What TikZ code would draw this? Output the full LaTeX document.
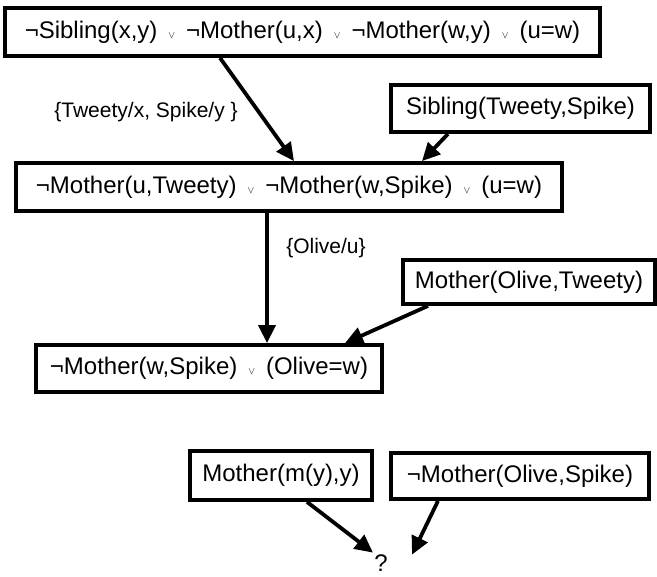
\documentclass[tikz,border=0pt]{standalone}
\usepackage{fontspec}
\setmainfont{Liberation Sans}
\usetikzlibrary{arrows.meta,calc}
\newcommand{\myor}{\hspace{11pt}{\fontsize{10}{10}\selectfont$\vee$}\hspace{11pt}}
\begin{document}
\begin{tikzpicture}[x=1pt,y=-1pt,
  clause/.style={draw, line width=3.8pt, fill=white, inner sep=0pt, font=\fontsize{24}{28}\selectfont},
  lbl/.style={inner sep=0pt, font=\fontsize{21}{24}\selectfont},
  conn/.style={line width=3.8pt, -{Triangle[length=18pt,width=17pt]}}]
\useasboundingbox (0,0) rectangle (657,577);
\node[clause, minimum width=595pt, minimum height=48pt] (b1) at (302.5,32)
  {¬Sibling(x,y)\myor¬Mother(u,x)\myor¬Mother(w,y)\myor(u=w)};
\node[clause, minimum width=259pt, minimum height=47pt] (sib) at (520.5,108.5)
  {Sibling(Tweety,Spike)};
\node[clause, minimum width=546pt, minimum height=48pt] (b2) at (289,187)
  {¬Mother(u,Tweety)\myor¬Mother(w,Spike)\myor(u=w)\hspace{10pt}};
\node[clause, minimum width=252pt, minimum height=44pt] (mot) at (529,282)
  {Mother(Olive,Tweety)};
\node[clause, minimum width=346pt, minimum height=47pt] (b3) at (209,368.5)
  {¬Mother(w,Spike)\myor(Olive=w)};
\node[clause, minimum width=182pt, minimum height=49pt] (mmy) at (281,475.5)
  {Mother(m(y),y)};
\node[clause, minimum width=258pt, minimum height=46pt] (nmos) at (520,476)
  {¬Mother(Olive,Spike)};
\node[lbl] (l1) at (146,112) {\{Tweety/x, Spike/y \}};
\node[lbl] (l2) at (326,248) {\{Olive/u\}};
\node[inner sep=0pt, anchor=base, font=\fontsize{24}{28}\selectfont] (q) at (381,572) {?};

\draw[conn] ($(b1.south)+(-82.5,0)$) -- ($(b2.north)+(5,0)$);
\draw[conn] ($(sib.south)+(-72.5,0)$) -- ($(b2.north)+(133,0)$);
\draw[conn] ($(b2.south)+(-22,0)$) -- ($(b3.north)+(58,0)$);
\draw[conn] ($(mot.south)+(-101,0)$) -- ($(b3.north)+(136,0)$);
\draw[conn] ($(mmy.south)+(26,0)$) -- ($(q.center)+(-8,-11)$);
\draw[conn] ($(nmos.south)+(-82,0)$) -- ($(q.center)+(31,-9)$);
\end{tikzpicture}
\end{document}
